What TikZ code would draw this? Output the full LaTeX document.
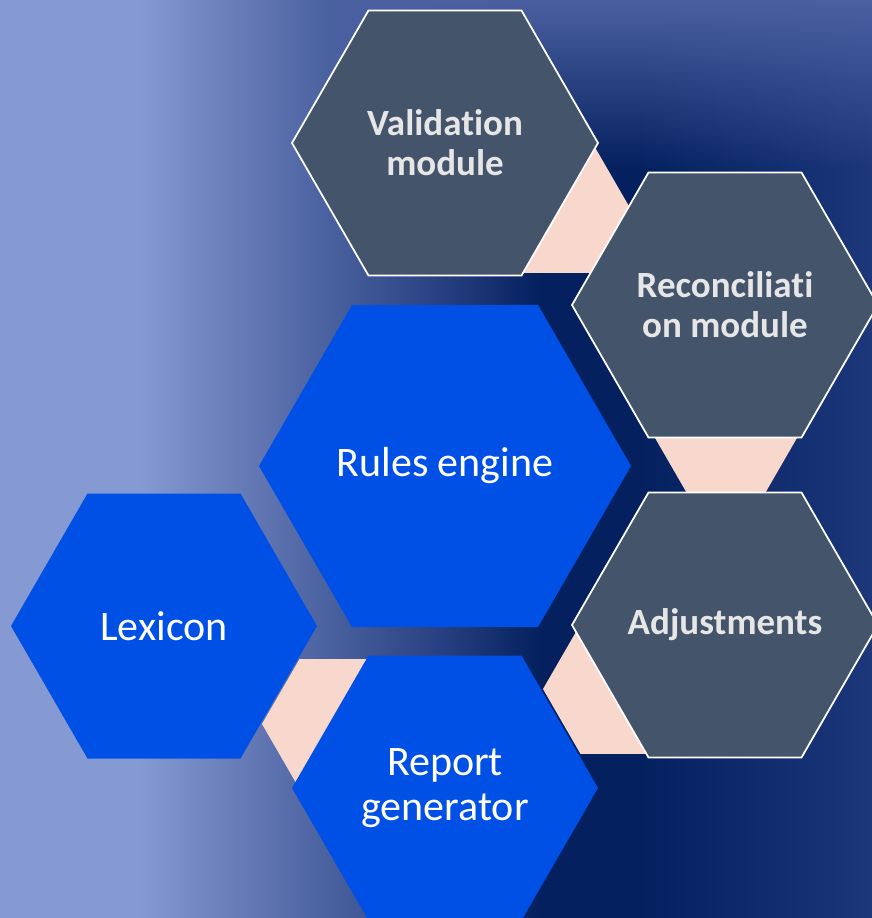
\documentclass[tikz,border=0pt]{standalone}
\usepackage{fontspec}
\setmainfont[Ligatures=NoCommon]{Carlito}
\usetikzlibrary{shapes.geometric,fadings}

\definecolor{bgLight}{HTML}{8599D2}
\definecolor{bgSoft}{HTML}{6478B5}
\definecolor{bgMid}{HTML}{4A619F}
\definecolor{bgDeep}{HTML}{2B4384}
\definecolor{bgDark}{HTML}{04205F}
\definecolor{bgRight}{HTML}{1C377A}
\definecolor{topBand}{HTML}{4B60A1}
\definecolor{slate}{HTML}{44546A}
\definecolor{royal}{HTML}{0050E6}
\definecolor{blush}{HTML}{F8D8CC}
\definecolor{paleText}{HTML}{E7E6E6}

\pgfdeclarehorizontalshading{backdrop}{100bp}{color(0bp)=(bgLight); color(33bp)=(bgLight); color(39.3bp)=(bgSoft); color(43.9bp)=(bgMid); color(49.7bp)=(bgDeep); color(56bp)=(bgDark); color(61.7bp)=(bgDark); color(75bp)=(bgRight); color(100bp)=(bgRight)}

\tikzfading[name=bandfade, top color=transparent!0, bottom color=transparent!100]

\tikzset{
  hexa/.style={regular polygon, regular polygon sides=6, inner sep=-14pt, outer sep=0pt, align=center},
  cellGray/.style={hexa, minimum size=306pt, fill=slate, draw=white, line width=1.75pt,
    text=paleText, font=\fontsize{37}{40}\selectfont\bfseries},
  cellBlue/.style={hexa, minimum size=306pt, fill=royal, text=white,
    font=\fontsize{42}{45}\selectfont},
  link/.style={hexa, minimum size=150pt, fill=blush}
}

\begin{document}
\begin{tikzpicture}[x=1pt,y=-1pt]

% Background
\useasboundingbox (0,0) rectangle (872,918);
\shade[shading=backdrop] (0,0) rectangle (872,918);
\fill[topBand, path fading=bandfade] (330,0) rectangle (872,170);

% Pink links (behind the cells)
\node[link] (linkVR) at (555,208) {};
\node[link] (linkRA) at (726,431) {};
\node[link] (linkAR) at (618,689) {};
\node[link] (linkLR) at (337,724) {};

% Gray cells
\node[cellGray] (valid) at (445,143) {Validation\\module};
\node[cellGray] (recon) at (725,305) {Reconciliati\\on module};
\node[cellGray] (adjust) at (725,625) {Adjustments};

% Blue cells
\node[cellBlue, minimum size=372pt] (rules) at (445,466) {Rules engine};
\node[cellBlue] (lexicon) at (164,626) {Lexicon};
\node[cellBlue] (report) at (445,788) {Report\\generator};

\end{tikzpicture}
\end{document}
